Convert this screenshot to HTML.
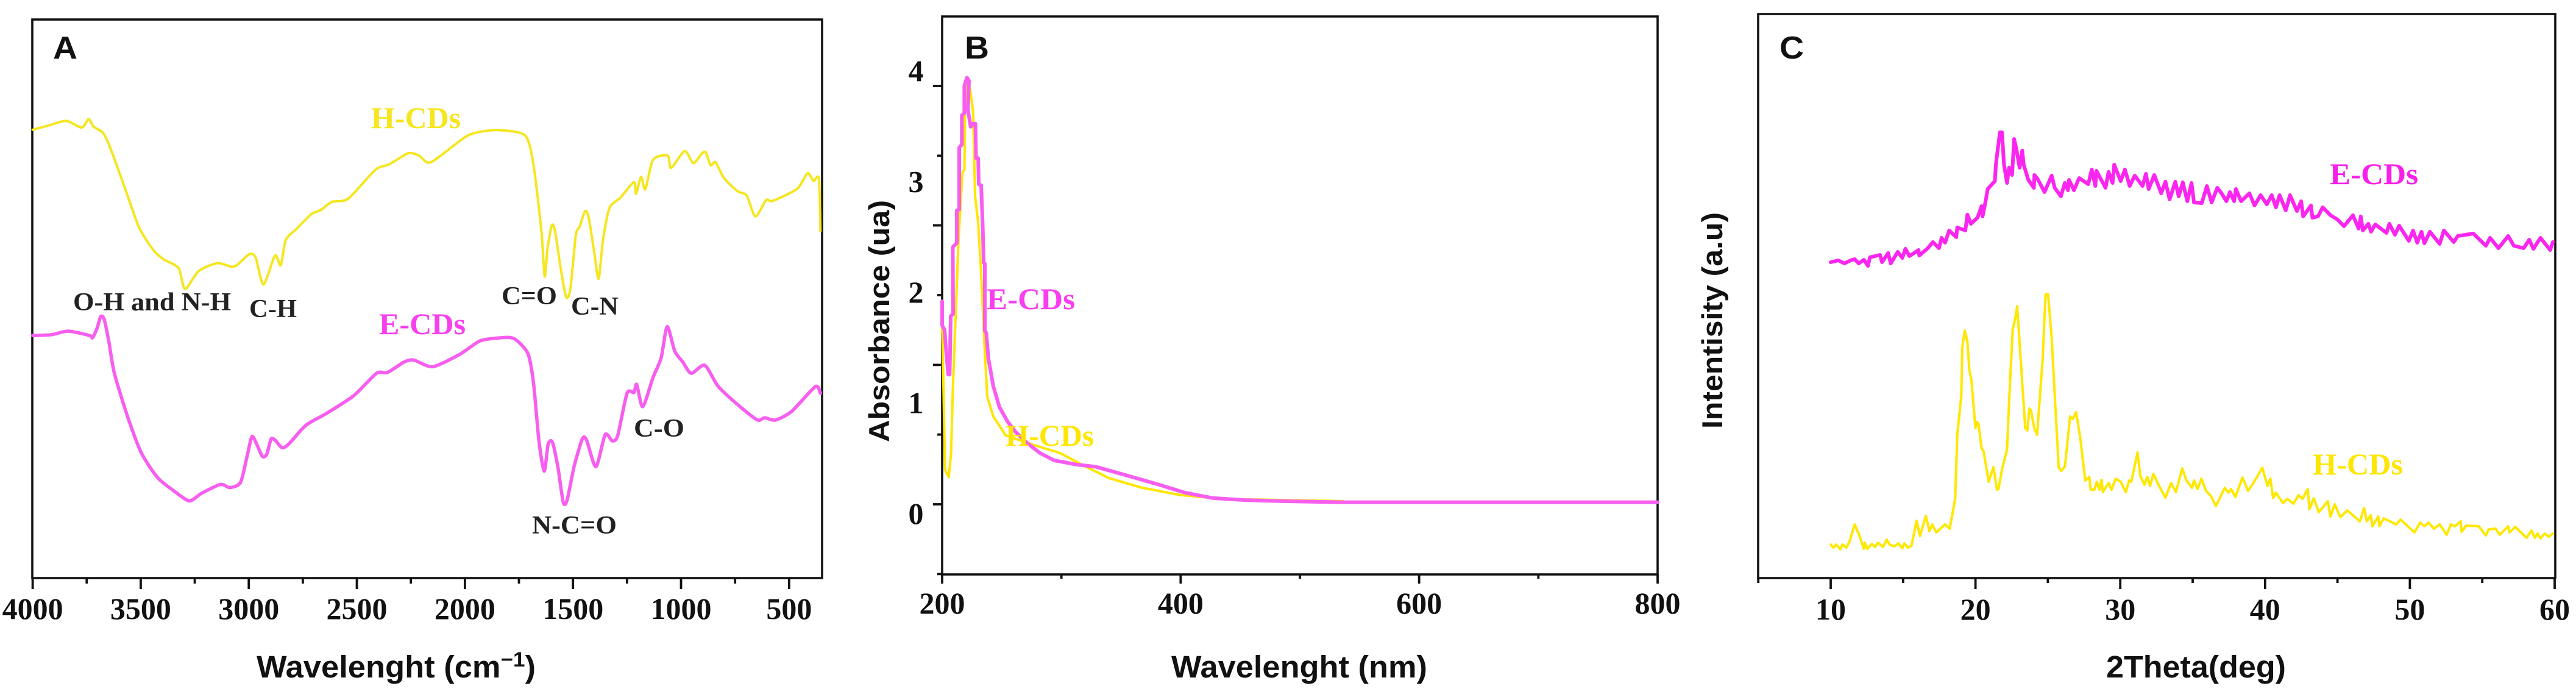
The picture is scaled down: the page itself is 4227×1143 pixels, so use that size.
<!DOCTYPE html>
<html lang="en">
<head>
<meta charset="utf-8">
<title>FTIR, UV-Vis and XRD spectra of H-CDs and E-CDs</title>
<style>
html,body{margin:0;padding:0;background:#fff;}
#figure{display:block;width:4227px;height:1143px;}
text{font-family:"Liberation Sans",sans-serif;}
.serif{font-family:"Liberation Serif",serif;font-weight:bold;}
.tick{font-size:50px;fill:#111;text-anchor:middle;}
.note{font-size:42px;fill:#222;}
.series-label{font-size:50px;}
.title{font-size:51px;font-weight:bold;fill:#111;}
.y-title{font-size:47px;font-weight:bold;fill:#111;}
.letter{font-size:52px;font-weight:bold;fill:#111;}
.frame{fill:none;stroke:#111;stroke-width:3.6;}
</style>
</head>
<body>
<svg id="figure" xmlns="http://www.w3.org/2000/svg" width="4227" height="1143" viewBox="0 0 4227 1143">
  <rect x="0" y="0" width="4227" height="1143" fill="#fff"/>

  <g id="panel-a">
    <rect class="frame" x="53" y="32" width="1296" height="916"/>
    <g id="a-ticks"></g>
    <g id="a-lines"></g>
    <text class="letter" x="87" y="96" textLength="40" lengthAdjust="spacingAndGlyphs">A</text>
    <text class="serif series-label" x="609" y="210" textLength="147" lengthAdjust="spacingAndGlyphs" fill="#f5e61e">H-CDs</text>
    <text class="serif series-label" x="622" y="548" textLength="142" lengthAdjust="spacingAndGlyphs" fill="#f83fee">E-CDs</text>
    <text class="serif note" x="120" y="509" textLength="259" lengthAdjust="spacingAndGlyphs">O-H and N-H</text>
    <text class="serif note" x="409" y="520" textLength="78" lengthAdjust="spacingAndGlyphs">C-H</text>
    <text class="serif note" x="823" y="499" textLength="91" lengthAdjust="spacingAndGlyphs">C=O</text>
    <text class="serif note" x="937" y="516" textLength="78" lengthAdjust="spacingAndGlyphs">C-N</text>
    <text class="serif note" x="873" y="875" textLength="139" lengthAdjust="spacingAndGlyphs">N-C=O</text>
    <text class="serif note" x="1040" y="716" textLength="83" lengthAdjust="spacingAndGlyphs">C-O</text>
    <text class="title" x="421" y="1111" textLength="458" lengthAdjust="spacingAndGlyphs">Wavelenght (cm<tspan font-size="34" dy="-18">−1</tspan><tspan dy="18">)</tspan></text>
  </g>

  <g id="panel-b">
    <rect class="frame" x="1546" y="27" width="1174" height="915"/>
    <g id="b-ticks"></g>
    <g id="b-lines"></g>
    <text class="letter" x="1583" y="96" textLength="40" lengthAdjust="spacingAndGlyphs">B</text>
    <text class="serif series-label" x="1619" y="507" textLength="145" lengthAdjust="spacingAndGlyphs" fill="#f83fee">E-CDs</text>
    <text class="serif series-label" x="1650" y="731" textLength="145" lengthAdjust="spacingAndGlyphs" fill="#ffe600">H-CDs</text>
    <text class="title" x="1922" y="1111" textLength="420" lengthAdjust="spacingAndGlyphs">Wavelenght (nm)</text>
    <text class="y-title" transform="translate(1459 725) rotate(-90)" x="0" y="0" textLength="397" lengthAdjust="spacingAndGlyphs">Absorbance (ua)</text>
  </g>

  <g id="panel-c">
    <rect class="frame" x="2885" y="23" width="1308" height="925"/>
    <g id="c-ticks"></g>
    <g id="c-lines"></g>
    <text class="letter" x="2920" y="96" textLength="40" lengthAdjust="spacingAndGlyphs">C</text>
    <text class="serif series-label" x="3823" y="302" textLength="145" lengthAdjust="spacingAndGlyphs" fill="#f81fe8">E-CDs</text>
    <text class="serif series-label" x="3795" y="778" textLength="148" lengthAdjust="spacingAndGlyphs" fill="#ffe600">H-CDs</text>
    <text class="title" x="3456" y="1111" textLength="295" lengthAdjust="spacingAndGlyphs">2Theta(deg)</text>
    <text class="y-title" transform="translate(2826 703) rotate(-90)" x="0" y="0" textLength="355" lengthAdjust="spacingAndGlyphs">Intentisity (a.u)</text>
  </g>
</svg>

<script>
// ---------- Panel A data (wavenumber cm-1, arbitrary transmittance) ----------
const aTickLabels = [4000, 3500, 3000, 2500, 2000, 1500, 1000, 500];
const aMinorTicks = [3750, 3250, 2750, 2250, 1750, 1250, 750];
const aHWave = [4000,3924,3844,3773,3741,3718,3673,3635,3572,3509,3446,3396,3325,3295,3232,3144,3068,2998,2968,2932,2879,2852,2829,2779,2711,2665,2615,2540,2414,2351,2263,2212,2157,1998,1923,1835,1721,1683,1646,1631,1618,1598,1583,1558,1532,1512,1487,1469,1444,1427,1401,1381,1361,1331,1281,1218,1208,1185,1165,1130,1062,1046,983,943,903,885,863,840,802,739,696,656,606,576,463,415,387,362,355];
const aHValue = [1008,1018,1028,1013,1032,1015,1000,960,875,790,740,717,697,650,690,708,700,728,720,660,725,703,760,785,818,828,846,853,918,930,955,950,935,992,1004,1007,995,930,780,678,740,793,780,700,632,650,770,790,825,810,730,673,760,832,855,890,864,902,874,940,950,922,960,933,955,957,928,935,900,870,860,813,850,848,875,910,893,898,780];
const aEWave = [4000,3912,3836,3736,3723,3703,3685,3668,3647,3622,3559,3496,3421,3345,3275,3219,3131,3088,3038,3005,2985,2963,2937,2917,2897,2879,2847,2817,2736,2640,2514,2409,2358,2283,2237,2149,2023,1930,1835,1772,1709,1683,1658,1633,1615,1595,1570,1545,1527,1495,1457,1437,1394,1351,1318,1293,1250,1218,1205,1177,1130,1092,1064,1029,991,953,890,827,727,646,613,563,487,379,355];
const aEValue = [545,547,555,545,540,560,588,580,530,460,360,280,225,195,173,190,210,203,215,280,318,300,273,278,312,310,293,300,343,370,410,460,462,485,490,475,503,533,540,538,505,440,310,240,300,305,250,170,175,250,312,310,250,322,308,320,415,417,435,385,450,495,565,510,485,460,478,430,385,355,360,355,375,430,415];

// ---------- Panel B data (nm, absorbance) ----------
const bXTickLabels = [200, 400, 600, 800];
const bXMinorTicks = [300, 500, 700];
const bYTickLabels = [0, 1, 2, 3, 4];
const bYLongTicks = [4, 2.667, 1.333, 0];
const bYShortTicks = [3.333, 2, 0.667, -0.667];
const bHNm = [200,200.3,202.4,205.5,207.5,208.9,211.4,213.6,217,218.7,219.1,221.1,223.4,225.9,227.6,230.2,232.7,235.3,237.8,242.9,253.2,258,276,299,317,340,367,399,436,490.6,536];
const bHAbs = [1.70,1.59,0.33,0.26,0.49,1.08,1.83,2.50,3.17,3.20,3.76,4.08,3.97,3.76,2.95,2.69,2.20,1.56,1.03,0.84,0.66,0.64,0.57,0.49,0.38,0.25,0.16,0.09,0.05,0.04,0.03];
const bENm = [200,200,202,203.4,205.1,206.3,207.2,209.2,208.9,212.3,212.3,214.3,214.3,216.5,216.5,218.6,218.6,220.8,222.5,221.6,223.9,225.9,227.9,228.4,230.2,230.7,232.7,234.1,234.8,235.8,235.8,237,238.7,242.9,248,254.9,261.7,271.9,282.1,294,312.7,328.6,353.7,381.1,403.9,426.7,454,486,536,800];
const bEAbs = [1.94,1.71,1.67,1.45,1.24,1.24,1.80,1.82,2.46,2.50,2.81,2.82,3.41,3.44,3.72,3.74,4.0,4.08,4.05,3.77,3.61,3.64,3.64,3.31,3.31,3.06,3.05,2.63,2.31,2.30,1.66,1.64,1.40,1.13,0.93,0.79,0.69,0.58,0.49,0.42,0.38,0.36,0.28,0.19,0.11,0.06,0.04,0.03,0.02,0.02];

// ---------- Panel C data (2-theta deg, counts) ----------
const cTickLabels = [10, 20, 30, 40, 50, 60];
const cMinorTicks = [5, 15, 25, 35, 45, 55];
const cEDeg = [10,10.53,10.95,11.37,11.66,11.94,12.29,12.57,12.71,13.41,13.55,13.97,14.15,14.63,14.95,15.16,15.44,16.07,16.12,16.71,17.06,17.48,17.66,17.9,18.18,18.67,18.74,19.3,19.44,19.68,20.14,20.42,20.49,20.7,20.84,21.34,21.41,21.5,21.69,21.83,21.97,22.18,22.32,22.53,22.67,22.81,23.05,23.23,23.33,23.65,24.03,24.07,24.28,24.77,25.26,25.47,25.9,26.17,26.39,26.46,26.8,27.16,27.79,28.03,28.28,28.35,28.98,29.19,29.47,29.58,30.03,30.32,30.65,31,31.54,31.77,31.96,32.35,32.83,33.12,33.41,33.8,34.03,34.32,34.63,34.92,35.09,35.63,35.98,36.31,36.7,36.99,37.33,37.57,37.86,37.99,38.34,38.92,39.27,39.69,40.12,40.46,40.75,41,41.43,41.72,42.2,42.49,42.63,43.17,43.27,43.65,43.98,44.52,45,45.45,46.07,46.46,46.61,46.75,47.13,47.32,47.61,48.39,48.58,48.97,49.26,49.93,50.22,50.51,50.8,51,51.38,52.06,52.35,53.03,53.31,54.38,55.25,55.54,56.12,56.79,57.18,57.86,58.24,58.53,59.02,59.69,59.88];
const cECount = [518,521,516,521,523,516,522,512,526,530,518,533,516,535,525,540,528,538,529,541,551,541,558,550,570,559,575,570,596,581,591,610,593,618,638,651,678,696,731,731,678,648,673,661,720,705,673,701,678,653,640,661,655,633,660,640,626,648,636,653,636,656,646,670,643,668,640,666,648,678,651,670,643,660,643,663,638,661,631,650,621,650,626,649,618,648,616,615,643,616,640,631,618,633,618,638,618,631,611,628,613,628,608,628,603,628,602,618,593,611,591,593,608,595,588,577,595,573,593,570,581,568,580,566,581,563,578,553,570,550,568,549,568,548,570,551,561,565,545,558,541,561,545,541,555,540,558,538,551];
const cHDeg = [10,10.18,10.39,10.67,10.81,11.09,11.3,11.66,12.01,12.29,12.36,12.53,12.85,13.06,13.27,13.62,13.87,14.07,14.39,14.67,14.95,15.09,15.33,15.58,15.93,16.17,16.57,16.82,17.01,17.3,17.9,18.22,18.6,18.74,19.02,19.09,19.26,19.44,19.58,19.72,20,20.1,20.21,20.42,20.56,20.91,21.24,21.48,21.59,21.83,22.18,22.32,22.57,22.74,22.88,23.02,23.3,23.44,23.58,23.72,23.83,24.07,24.25,24.42,24.63,24.84,25.01,25.26,25.47,25.75,25.92,26.18,26.53,26.74,26.95,27.23,27.58,27.86,27.96,28.21,28.38,28.56,28.7,28.8,29.19,29.4,29.68,30.03,30.38,30.61,30.76,31.19,31.38,31.67,31.87,32.06,32.29,32.64,33.12,33.51,33.84,34.28,34.57,34.96,35.09,35.34,35.6,35.92,36.25,36.6,37.22,37.47,37.66,37.95,38.44,38.82,39.11,39.5,39.81,40.17,40.37,40.56,40.75,41.24,41.53,41.97,42.3,42.59,42.94,43.07,43.36,43.71,44.33,44.52,44.81,45.2,45.68,46.55,46.84,47.03,47.29,47.42,47.81,47.9,48.19,49.06,49.35,50.32,50.71,51,51.29,51.67,52.06,52.54,52.83,53.12,53.51,53.57,53.89,54.76,55.25,55.44,55.92,56.21,56.79,56.89,57.28,58.05,58.4,58.63,58.82,59.02,59.3,59.59,59.88];
const cHCount = [55,50,55,47,55,50,60,88,68,48,58,48,56,51,58,51,63,55,52,57,49,57,50,53,94,69,102,77,88,75,88,81,130,235,298,378,406,388,341,325,246,256,253,213,208,158,182,145,146,178,211,288,408,425,446,395,295,246,242,278,275,245,235,288,355,465,466,395,301,181,176,183,265,261,272,231,160,166,145,145,158,145,161,141,156,145,163,158,141,160,158,206,168,153,166,151,171,153,132,156,141,180,160,148,160,146,163,143,135,118,148,140,146,133,165,143,153,168,181,151,163,131,140,123,130,122,136,130,146,113,131,108,126,101,121,100,111,93,115,93,103,85,101,85,98,88,96,75,91,85,91,81,88,71,88,85,93,76,86,85,70,80,81,71,85,75,84,66,78,66,73,65,73,68,73];

// ---------- Axis functions ----------
function aX(v) { return 53.6 + (4000 - v) * 0.35464; }
function aY(v) { return 947.5 - v / 1.372; }
function bX(v) { return 1546 + (v - 200) * 1.9567; }
function bY(v) { return 827 - v * 171.5; }
function bLabelY(v) { return 859 - v * 181.5; }
function cX(v) { return 3004 + (v - 10) * 23.76; }
function cY(v) { return 948 - v; }

const svgNs = 'http://www.w3.org/2000/svg';

function buildPath(xs, ys, fx, fy) {
  let d = '';
  for (let i = 0; i < xs.length; i++) {
    d += (i ? 'L' : 'M') + fx(xs[i]).toFixed(1) + ' ' + fy(ys[i]).toFixed(1);
  }
  return d;
}

function buildSmoothPath(xs, ys, fx, fy) {
  const px = xs.map(fx);
  const py = ys.map(fy);
  const last = px.length - 1;
  let d = 'M' + px[0].toFixed(1) + ' ' + py[0].toFixed(1);
  for (let i = 0; i < last; i++) {
    const a = Math.max(i - 1, 0);
    const b = Math.min(i + 2, last);
    const c1x = px[i] + (px[i + 1] - px[a]) / 8;
    const c1y = py[i] + (py[i + 1] - py[a]) / 8;
    const c2x = px[i + 1] - (px[b] - px[i]) / 8;
    const c2y = py[i + 1] - (py[b] - py[i]) / 8;
    d += 'C' + c1x.toFixed(1) + ' ' + c1y.toFixed(1) + ' ' + c2x.toFixed(1) + ' ' + c2y.toFixed(1) + ' ' + px[i + 1].toFixed(1) + ' ' + py[i + 1].toFixed(1);
  }
  return d;
}

function addLine(parentId, d, color, width, name) {
  const el = document.createElementNS(svgNs, 'path');
  el.setAttribute('d', d);
  el.setAttribute('fill', 'none');
  el.setAttribute('stroke', color);
  el.setAttribute('stroke-width', width);
  el.setAttribute('stroke-linejoin', 'round');
  el.setAttribute('stroke-linecap', 'round');
  
  
  document.getElementById(parentId).appendChild(el);
}

function addTick(parentId, x1, y1, x2, y2) {
  const el = document.createElementNS(svgNs, 'line');
  el.setAttribute('x1', x1);
  el.setAttribute('y1', y1);
  el.setAttribute('x2', x2);
  el.setAttribute('y2', y2);
  el.setAttribute('stroke', '#111');
  el.setAttribute('stroke-width', 3.8);
  
  
  document.getElementById(parentId).appendChild(el);
}

function addLabel(parentId, x, y, value) {
  const el = document.createElementNS(svgNs, 'text');
  el.setAttribute('x', x);
  el.setAttribute('y', y);
  el.setAttribute('class', 'serif tick');
  
  
  el.textContent = String(value);
  document.getElementById(parentId).appendChild(el);
}

// Panel A
aTickLabels.forEach(function (v) {
  addTick('a-ticks', aX(v), 948, aX(v), 966);
  addLabel('a-ticks', aX(v), 1015, v);
});
aMinorTicks.forEach(function (v) {
  addTick('a-ticks', aX(v), 948, aX(v), 957);
});
addLine('a-lines', buildSmoothPath(aHWave, aHValue, aX, aY), '#f5e61e', 4, 'panel-a-h-cds-line');
addLine('a-lines', buildSmoothPath(aEWave, aEValue, aX, aY), '#f75ef0', 5.5, 'panel-a-e-cds-line');

// Panel B
bXTickLabels.forEach(function (v) {
  addTick('b-ticks', bX(v), 942, bX(v), 957);
  addLabel('b-ticks', bX(v), 1006, v);
});
bXMinorTicks.forEach(function (v) {
  addTick('b-ticks', bX(v), 942, bX(v), 949);
});
bYLongTicks.forEach(function (v) {
  addTick('b-ticks', 1531, bY(v), 1546, bY(v));
});
bYShortTicks.forEach(function (v) {
  addTick('b-ticks', 1538, bY(v), 1546, bY(v));
});
bYTickLabels.forEach(function (v) {
  addLabel('b-ticks', 1503, bLabelY(v), v);
});
addLine('b-lines', buildPath(bHNm, bHAbs, bX, bY), '#ffe600', 4, 'panel-b-h-cds-line');
addLine('b-lines', buildPath(bENm, bEAbs, bX, bY), '#f75ef0', 6, 'panel-b-e-cds-line');

// Panel C
cTickLabels.forEach(function (v) {
  addTick('c-ticks', cX(v), 948, cX(v), 966);
  addLabel('c-ticks', cX(v), 1016, v);
});
cMinorTicks.forEach(function (v) {
  addTick('c-ticks', cX(v), 948, cX(v), 956);
});
addLine('c-lines', buildPath(cEDeg, cECount, cX, cY), '#fb25f0', 6, 'panel-c-e-cds-line');
addLine('c-lines', buildPath(cHDeg, cHCount, cX, cY), '#ffe800', 4, 'panel-c-h-cds-line');
</script>
</body>
</html>
